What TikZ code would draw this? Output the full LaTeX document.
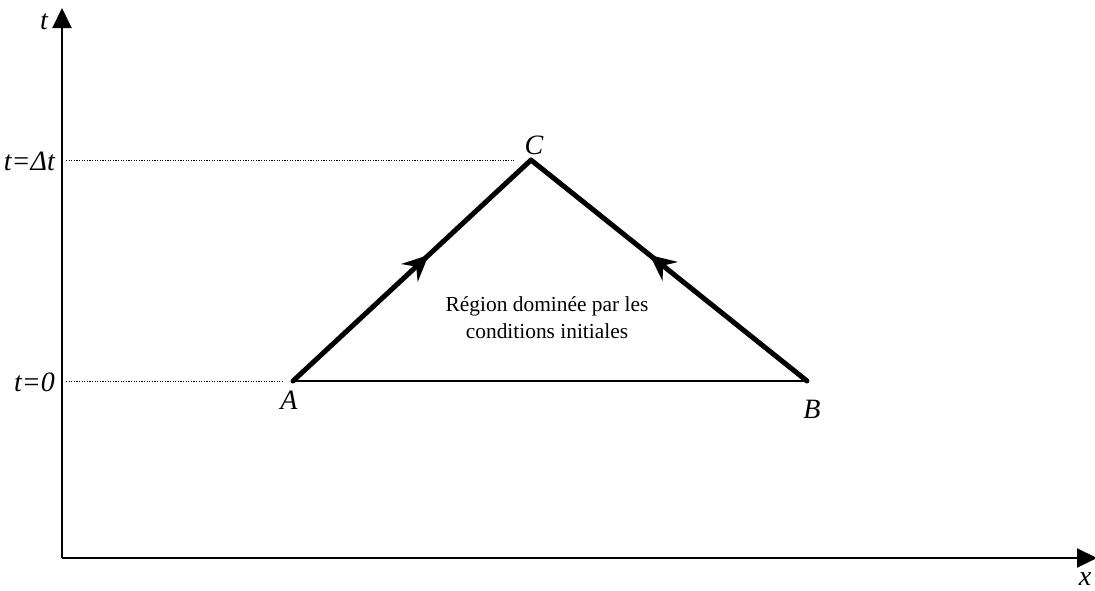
\documentclass[tikz,border=0pt]{standalone}
\usepackage{fontspec}
\setmainfont{Liberation Serif}
\usepackage{tikz}
\usetikzlibrary{arrows.meta,positioning,decorations.markings}

\tikzset{
  axis/.style={line width=2.2pt, -{Triangle[length=20pt,width=19pt]}},
  guide/.style={line width=1pt, dash pattern=on 1.2pt off 1.4pt},
  char/.style={line width=5pt, line cap=round, postaction={decorate},
    decoration={markings, mark=at position 0.57 with {\arrow{Stealth[length=26pt,width=24pt,inset=9pt]}}}},
  lbl/.style={font=\fontsize{28}{32}\selectfont\itshape, inner sep=0pt}
}

\begin{document}
\begin{tikzpicture}[x=1pt, y=-1pt]
  \useasboundingbox (0,0) rectangle (1095,590);
  % axes
  \coordinate (O) at (62,558);
  \coordinate (tend) at (62,8);
  \coordinate (xend) at (1097,558);
  \draw[axis] (O) -- (tend);
  \draw[axis] (O) -- (xend);
  \node[lbl] (tlab) at (44,22) {t};
  \node[lbl] (xlab) at (1085,579) {x};
  % triangle of dependence
  \coordinate (A) at (293,381);
  \coordinate (B) at (807,381);
  \coordinate (C) at (531,160);
  \coordinate (t0) at (66,381);
  \coordinate (tdt) at (66,160);
  \draw[guide] (t0) -- ([xshift=-9pt]A);
  \draw[guide] (tdt) -- ([xshift=-16pt]C);
  \node[lbl, anchor=east] (t0lab) at (55,382) {t=0};
  \node[lbl, anchor=east] (tdtlab) at (55,161) {t=\char"0394t};
  \draw[line width=2pt] (A) -- (B);
  \draw[char] (A) -- (C);
  \draw[char] (B) -- (C);
  \node[lbl] (Alab) at (289,400) {A};
  \node[lbl] (Blab) at (812,409) {B};
  \node[lbl] (Clab) at (534,145) {C};
  \node[font=\fontsize{21.4}{27}\selectfont, align=center] (region) at (547,318)
    {Région dominée par les\\conditions initiales};
\end{tikzpicture}
\end{document}
